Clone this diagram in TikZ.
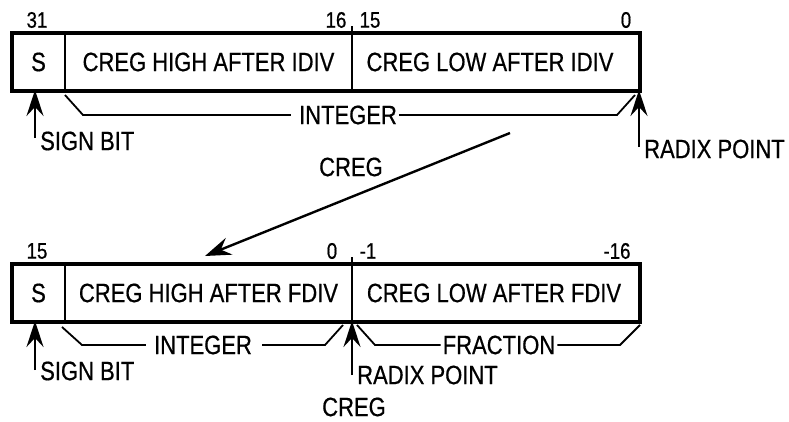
\documentclass[tikz,border=0pt]{standalone}
\usepackage{fontspec}
\setmainfont{Liberation Sans}[FakeStretch=0.83,FakeBold=0.6]
\usetikzlibrary{arrows.meta}
\begin{document}
\begin{tikzpicture}[x=1pt,y=-1pt,
  txt/.style={font=\fontsize{26.5}{30}\selectfont, inner sep=0pt},
  num/.style={font=\fontsize{22.5}{25}\selectfont, inner sep=0pt},
  field/.style={draw, line width=2.6pt, minimum height=58pt, inner sep=0pt, outer sep=0pt,
    anchor=north west, font=\fontsize{26.5}{30}\selectfont},
  frame/.style={line width=3.8pt},
  brace/.style={line width=1.8pt},
  ptr/.style={line width=2.2pt, -{Stealth[length=26pt,width=17pt,inset=9pt]}, shorten >=-1pt},
  bigptr/.style={line width=2.4pt, -{Stealth[length=26pt,width=18pt,inset=9pt]}},
]
\useasboundingbox (0,0) rectangle (789,421);

% ---------- top register ----------
\node[field, minimum width=53pt]  (s1) at (12,33)  {S};
\node[field, minimum width=287pt] (h1) at (65,33)  {CREG HIGH AFTER IDIV};
\node[field, minimum width=288pt] (l1) at (352,33) {\hspace*{-12pt}CREG LOW AFTER IDIV};
\draw[frame] (s1.north west) rectangle (l1.south east);
\draw[line width=2.6pt] (h1.north east) -- ++(0,-7);

\node[num] (n31) at (37,20)  {31};
\node[num] (n16) at (336,20) {16};
\node[num] (n15) at (370,20) {15};
\node[num] (n0)  at (626,20) {0};

\coordinate (sb1) at (35,138);
\draw[ptr] (sb1) -- (sb1 |- s1.south);
\node[txt, anchor=west] (sbt1) at (40,141) {SIGN BIT};

\node[txt] (int1) at (348,115) {INTEGER};
\draw[brace] (65,95) -- (83,115) -- ([xshift=-8pt]int1.west);
\draw[brace] ([xshift=2pt]int1.east) -- (617,115) -- (635,95);

\coordinate (rp1) at (639,147);
\draw[ptr] (rp1) -- (rp1 |- l1.south);
\node[txt, anchor=west] (rpt1) at (644,149) {RADIX POINT};

\node[txt] (creg1) at (351,167) {CREG};
\coordinate (a1) at (510,133);
\coordinate (a2) at (205,256);
\draw[bigptr] (a1) -- (a2);

% ---------- bottom register ----------
\node[field, minimum width=53pt]  (s2) at (12,264)  {S};
\node[field, minimum width=287pt] (h2) at (65,264)  {CREG HIGH AFTER FDIV};
\node[field, minimum width=288pt] (l2) at (352,264) {\hspace*{-4pt}CREG LOW AFTER FDIV};
\draw[frame] (s2.north west) rectangle (l2.south east);
\draw[line width=2.6pt] (h2.north east) -- ++(0,-7);

\node[num] (m15) at (37,251)  {15};
\node[num] (m0)  at (332,251) {0};
\node[num] (m1)  at (368,251) {-1};
\node[num] (m16) at (617,251) {-16};

\coordinate (sb2) at (35,370);
\draw[ptr] (sb2) -- (sb2 |- s2.south);
\node[txt, anchor=west] (sbt2) at (40,371) {SIGN BIT};

\node[txt] (int2) at (203,345) {INTEGER};
\draw[brace] (62,327) -- (82,345) -- ([xshift=-8pt]int2.west);
\draw[brace] ([xshift=10pt]int2.east) -- (325,345) -- (343,325);

\coordinate (rp2) at (352,375);
\draw[ptr] (rp2) -- (h2.south east);
\node[txt, anchor=west] (rpt2) at (357,375) {RADIX POINT};

\node[txt] (frac) at (499,345) {FRACTION};
\draw[brace] (357,325) -- (375,345) -- ([xshift=-2pt]frac.west);
\draw[brace] ([xshift=2pt]frac.east) -- (620,345) -- (640,325);

\node[txt] (creg2) at (354,407) {CREG};
\end{tikzpicture}
\end{document}
